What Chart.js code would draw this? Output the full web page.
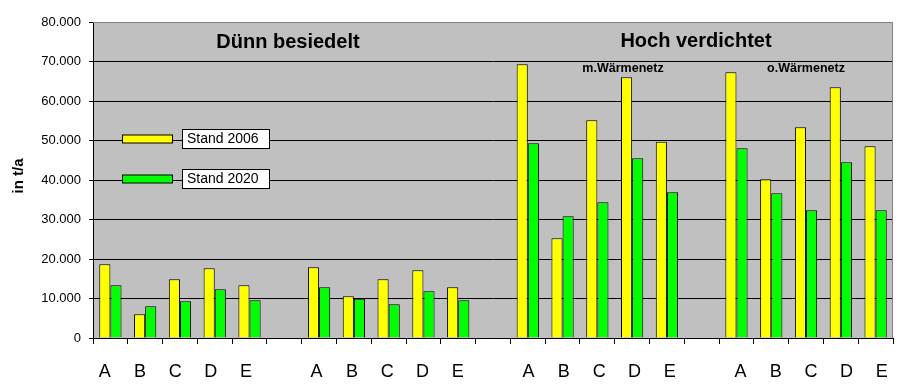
<!DOCTYPE html>
<html>
<head>
<meta charset="utf-8">
<script src="https://cdn.jsdelivr.net/npm/chart.js@4/dist/chart.umd.min.js"></script>
<style>
  html, body { margin: 0; padding: 0; background: #ffffff; }
  #wrap { width: 897px; height: 384px; position: relative; }
</style>
</head>
<body>
<div id="wrap"><canvas id="c" width="897" height="384"></canvas></div>
<script>
// Categories (empty strings are the gaps between the groups)
const categories = ['A','B','C','D','E','', 'A','B','C','D','E','', 'A','B','C','D','E','', 'A','B','C','D','E'];
const seriesNames = ['Stand 2006', 'Stand 2020'];
const stand2006 = [18660, 6000, 14860, 17640, 13340, null,
                   17890, 10550, 14860, 17140, 12830, null,
                   69300, 25230, 55100, 66000, 49700, null,
                   67260, 40180, 53340, 63470, 48530];
const stand2020 = [13340, 8020, 9290, 12330, 9540, null,
                   12830, 9950, 8530, 11820, 9540, null,
                   49280, 30800, 34350, 45490, 36880, null,
                   48020, 36630, 32330, 44480, 32330];
const yTicks = [0, 10000, 20000, 30000, 40000, 50000, 60000, 70000, 80000];
const yAxisTitle = 'in t/a';
const groupTitles = ['Dünn besiedelt', 'Hoch verdichtet'];
const subTitles = ['m.Wärmenetz', 'o.Wärmenetz'];

const FONT = '"Liberation Sans", Arial, sans-serif';

function fmt(v) {
  return String(v).replace(/\B(?=(\d{3})+(?!\d))/g, '.');
}

const bgPlugin = {
  id: 'bg',
  beforeDraw(chart) {
    const { ctx, chartArea: a } = chart;
    ctx.save();
    ctx.fillStyle = '#c0c0c0';
    ctx.fillRect(a.left, a.top, a.right - a.left, a.bottom - a.top);
    ctx.restore();
  },
  afterDraw(chart) {
    const { ctx, chartArea: a } = chart;
    ctx.save();
    // gray top and right border of plot area
    ctx.strokeStyle = '#808080';
    ctx.lineWidth = 1;
    ctx.beginPath();
    ctx.moveTo(a.left, a.top + 0.5);
    ctx.lineTo(a.right - 0.5, a.top + 0.5);
    ctx.lineTo(a.right - 0.5, a.bottom);
    ctx.stroke();

    // group titles
    ctx.fillStyle = '#000';
    ctx.textAlign = 'center';
    ctx.textBaseline = 'middle';
    ctx.font = 'bold 20px ' + FONT;
    ctx.fillText(groupTitles[0], 288, 42);
    ctx.fillText(groupTitles[1], 696, 41);
    ctx.font = 'bold 12.5px ' + FONT;
    ctx.fillText(subTitles[0], 623, 69);
    ctx.fillText(subTitles[1], 806, 69);

    // y axis title
    ctx.save();
    ctx.translate(19, 176);
    ctx.rotate(-Math.PI / 2);
    ctx.font = 'bold 15px ' + FONT;
    ctx.fillText(yAxisTitle, 0, 0);
    ctx.restore();

    // legend
    chart.data.datasets.forEach((ds, i) => {
      const cy = 139 + 40 * i;
      ctx.fillStyle = ds.backgroundColor;
      ctx.strokeStyle = '#000';
      ctx.lineWidth = 1;
      ctx.fillRect(122.5, cy - 4, 50, 8);
      ctx.strokeRect(122.5, cy - 4, 50, 8);
      ctx.fillStyle = '#fff';
      ctx.fillRect(182.5, cy - 9.5, 87, 19);
      ctx.strokeRect(182.5, cy - 9.5, 87, 19);
      ctx.fillStyle = '#000';
      ctx.textAlign = 'left';
      ctx.font = '14px ' + FONT;
      ctx.fillText(ds.label, 187, cy + 0.5);
    });
    ctx.restore();
  }
};

new Chart(document.getElementById('c'), {
  type: 'bar',
  data: {
    labels: categories,
    datasets: [
      { label: seriesNames[0], data: stand2006, backgroundColor: '#ffff00', borderColor: '#000', borderWidth: 1 },
      { label: seriesNames[1], data: stand2020, backgroundColor: '#00ff00', borderColor: '#000', borderWidth: 1 }
    ]
  },
  options: {
    responsive: false,
    animation: false,
    devicePixelRatio: 1,
    layout: { padding: { top: 22, right: 4, left: 0, bottom: 0 } },
    datasets: { bar: { categoryPercentage: 0.64, barPercentage: 1.0 } },
    plugins: {
      legend: { display: false },
      tooltip: { enabled: false },
      title: { display: false }
    },
    scales: {
      x: {
        weight: 0,
        offset: true,
        grid: { offset: true, drawOnChartArea: false, drawTicks: true, tickLength: 6, color: '#000', tickColor: '#000' },
        border: { display: true, color: '#000', width: 1 },
        ticks: { display: false, autoSkip: false },
        afterFit(scale) { scale.height = 6; scale.paddingLeft = 0; scale.paddingRight = 0; }
      },
      // label axis: the category letters are spaced slightly wider than the bars, as in the original
      xl: {
        type: 'linear',
        position: 'bottom',
        weight: 1,
        offset: false,
        bounds: 'data',
        min: -0.331,
        max: 22.32,
        afterBuildTicks(scale) { scale.ticks = categories.map((_, i) => ({ value: i })); },
        grid: { display: false },
        border: { display: false },
        ticks: {
          color: '#000',
          font: { family: FONT, size: 18 },
          padding: 9,
          maxRotation: 0,
          autoSkip: false,
          callback: (v) => categories[v] ?? ''
        },
        afterFit(scale) { scale.height = 40; scale.paddingLeft = 0; scale.paddingRight = 0; }
      },
      y: {
        min: 0,
        max: 80000,
        afterBuildTicks(scale) { scale.ticks = yTicks.map(v => ({ value: v })); },
        grid: {
          color: (c) => (c.tick && c.tick.value === 80000 ? 'rgba(0,0,0,0)' : '#000'),
          tickColor: '#000',
          drawTicks: true,
          tickLength: 4
        },
        border: { display: true, color: '#000', width: 1 },
        ticks: {
          color: '#000',
          font: { family: FONT, size: 13 },
          padding: 8,
          callback: (v) => fmt(v)
        },
        afterFit(scale) { scale.width = 93; scale.paddingTop = 0; scale.paddingBottom = 0; }
      }
    }
  },
  plugins: [bgPlugin]
});
</script>
</body>
</html>
